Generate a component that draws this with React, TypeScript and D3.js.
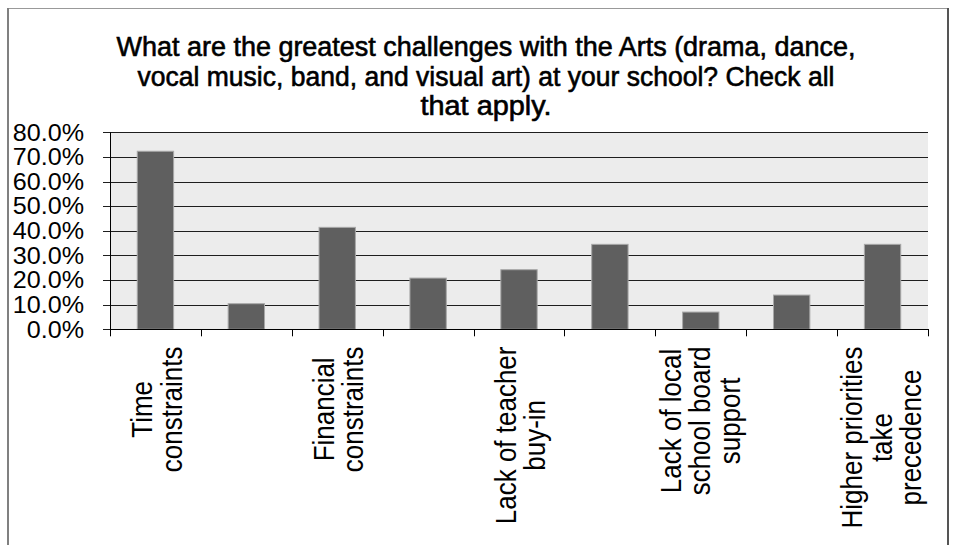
import React, { useMemo } from "react";
import * as d3 from "d3";

const TITLE_LINES = [
  "What are the greatest challenges with the Arts (drama, dance,",
  "vocal music, band, and visual art) at your school? Check all",
  "that apply.",
];
const CATEGORIES = [
  "Time constraints",
  "Lack of space",
  "Financial constraints",
  "Lack of materials",
  "Lack of teacher buy-in",
  "Lack of trained staff",
  "Lack of local school board support",
  "Lack of community support",
  "Higher priorities take precedence",
];
// visible label lines per category (Excel skipped every other label)
const LABEL_LINES: string[][] = [
  ["Time", "constraints"],
  [],
  ["Financial", "constraints"],
  [],
  ["Lack of teacher", "buy-in"],
  [],
  ["Lack of local", "school board", "support"],
  [],
  ["Higher priorities", "take", "precedence"],
];
const VALUES = [0.723, 0.104, 0.414, 0.208, 0.242, 0.345, 0.07, 0.139, 0.345];
const Y_TICKS = [0, 0.1, 0.2, 0.3, 0.4, 0.5, 0.6, 0.7, 0.8];

const W = 953;
const H = 545;
const PL = 110;
const PR = 928;
const PT = 132.3;
const PB = 329.3;
const FONT = "'Liberation Sans', Arial, sans-serif";

function measure(text: string, font: string): number {
  const c = document.createElement("canvas");
  const ctx = c.getContext("2d");
  if (!ctx) return text.length * 13;
  ctx.font = font;
  return ctx.measureText(text).width;
}

export default function App() {
  const x = d3.scaleBand<string>().domain(CATEGORIES).range([PL, PR]).paddingInner(0.6).paddingOuter(0.3);
  const xOuter = d3.scaleBand<string>().domain(CATEGORIES).range([PL, PR]);
  const y = d3.scaleLinear().domain([0, 0.8]).range([PB, PT]);
  const fmt = d3.format(".1%");

  const labelLen = useMemo(
    () => LABEL_LINES.map((lines) => d3.max(lines.map((l) => measure(l, `26px ${FONT}`))) || 0),
    []
  );

  const boundaries = CATEGORIES.map((c) => xOuter(c) as number).concat([PR]);
  const lh = 29.5;

  return (
    <div style={{ position: "absolute", left: 0, top: 0 }}>
      <svg width={W} height={H} style={{ display: "block" }}>
        <rect x={0} y={0} width={W} height={H} fill="#fff" />
        {/* outer border */}
        <line x1={8} x2={948} y1={8.5} y2={8.5} stroke="#999" strokeWidth={1} />
        <line x1={8} x2={8} y1={8} y2={H} stroke="#808080" strokeWidth={2} />
        <line x1={948} x2={948} y1={8} y2={H} stroke="#555" strokeWidth={2} />

        {/* title */}
        {TITLE_LINES.map((t, i) => (
          <text
            key={i}
            x={486}
            y={56 + i * 29.5}
            textAnchor="middle"
            fontFamily={FONT}
            fontSize={27}
            fill="#000"
            stroke="#000"
            strokeWidth={0.6}
            textLength={i === 0 ? 739 : i === 1 ? 697 : 131}
            lengthAdjust="spacingAndGlyphs"
          >
            {t}
          </text>
        ))}

        {/* plot background */}
        <rect x={PL} y={PT} width={PR - PL} height={PB - PT} fill="#ececec" />

        {/* gridlines */}
        {Y_TICKS.map((t) => (
          <line key={t} x1={PL - 7} x2={PR} y1={Math.round(y(t)) + 0.5} y2={Math.round(y(t)) + 0.5} stroke="#1e1e1e" strokeWidth={1} />
        ))}

        {/* bars */}
        {CATEGORIES.map((c, i) => (
          <rect
            key={c}
            x={x(c) as number}
            y={y(VALUES[i])}
            width={x.bandwidth()}
            height={PB - y(VALUES[i])}
            fill="#5f5f5f"
            stroke="#a8a8a8"
            strokeWidth={1}
          />
        ))}

        {/* axes */}
        <line x1={PL + 0.5} x2={PL + 0.5} y1={PT} y2={PB} stroke="#000" />
        <line x1={PL} x2={PR + 1} y1={Math.round(PB) + 0.5} y2={Math.round(PB) + 0.5} stroke="#000" />
        {boundaries.map((bx, i) => (
          <line key={i} x1={Math.round(bx) + 0.5} x2={Math.round(bx) + 0.5} y1={PB} y2={PB + 7} stroke="#000" />
        ))}

        {/* y labels */}
        {Y_TICKS.map((t) => (
          <text
            key={t}
            transform={`translate(84,${y(t) + 8.3}) scale(1.07,1)`}
            textAnchor="end"
            fontFamily={FONT}
            fontSize={23.5}
            fill="#000"
          >
            {fmt(t)}
          </text>
        ))}

        {/* x labels */}
        {CATEGORIES.map((c, i) => {
          const lines = LABEL_LINES[i];
          if (!lines.length) return null;
          const cx = (xOuter(c) as number) + xOuter.bandwidth() / 2;
          const cy = 346.5 + labelLen[i] / 2;
          const n = lines.length;
          return (
            <g key={c}>
              {lines.map((l, j) => {
                const bx = cx - (n * lh) / 2 + j * lh + lh * 0.82 + (n === 2 ? 2 : 0);
                return (
                  <text
                    key={j}
                    transform={`translate(${bx},${cy}) scale(1.15,1) rotate(-90)`}
                    textAnchor="middle"
                    fontFamily={FONT}
                    fontSize={26}
                    fill="#000"
                  >
                    {l}
                  </text>
                );
              })}
            </g>
          );
        })}
      </svg>
    </div>
  );
}
